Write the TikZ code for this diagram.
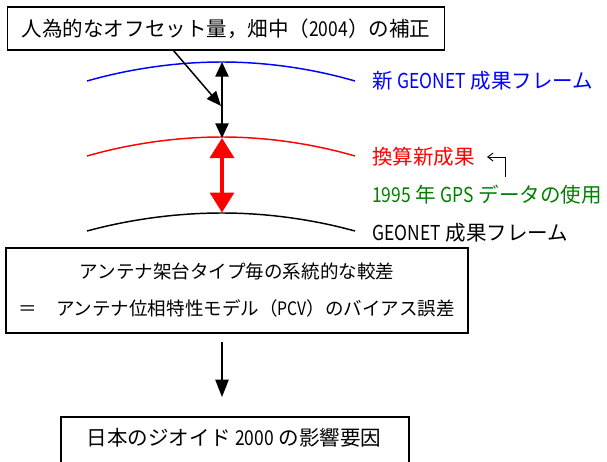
\documentclass[tikz,border=0pt]{standalone}
\usepackage{fontspec}
\setmainfont{Noto Sans CJK JP}
\newfontfamily\narrow[FakeStretch=0.85]{Noto Sans CJK JP}
\usetikzlibrary{arrows.meta}
\definecolor{dgreen}{RGB}{0,128,0}
\tikzset{
  boxst/.style={draw, line width=1.4pt, inner sep=0pt},
  bigfont/.style={font=\fontsize{15.4pt}{18pt}\selectfont},
  lbl/.style={anchor=west, inner sep=0pt, bigfont},
  curve/.style={line width=1.1pt},
  blkarrow/.style={line width=1.1pt, {Triangle[length=11pt,width=10pt]}-{Triangle[length=11pt,width=10pt]}},
  onearrow/.style={line width=1.1pt, -{Triangle[length=11pt,width=9pt]}},
  redarrow/.style={red, line width=2.6pt, {Triangle[length=15pt,width=18pt]}-{Triangle[length=15pt,width=18pt]}},
  thinarrow/.style={line width=0.7pt, -{Straight Barb[length=4pt,width=6pt]}}
}
\begin{document}
\begin{tikzpicture}[x=0.75pt,y=-0.75pt]
\clip (0,0) rectangle (607,461);
\useasboundingbox (0,0) rectangle (607,461);
% top box
\node[boxst, minimum width=437*0.75pt, minimum height=43*0.75pt, bigfont] (top) at (226,28.5) {人為的なオフセット量，畑中（{\narrow 2004}）の補正};
% curves
\draw[curve, blue] (87,81) parabola bend (222,62) (355,81);
\draw[curve, red] (87,156) parabola bend (222,137) (355,156);
\draw[curve, black] (87,231) parabola bend (222,213) (355,231);
\coordinate (bluepk) at (222,62);
\coordinate (redpk) at (222,138);
\coordinate (blkpk) at (222,212.5);
\draw[blkarrow] (bluepk) -- (redpk);
\draw[redarrow] (redpk) -- (blkpk);
\coordinate (dstart) at (173,50);
\coordinate (dend) at (221,106);
\draw[onearrow] (dstart) -- (dend);
% labels
\node[lbl, blue] (lblue) at (372,81) {新 {\narrow GEONET} 成果フレーム};
\node[lbl, red] (lred) at (372,157) {換算新成果};
\node[lbl, dgreen] (lgreen) at (372,195) {{\narrow 1995} 年 {\narrow GPS} データの使用};
\node[lbl] (lblack) at (372,233) {{\narrow GEONET} 成果フレーム};
\coordinate (b1) at (505,177);
\coordinate (b2) at (487,157);
\draw[thinarrow] (b1) |- (b2);
% middle box
\node[boxst, minimum width=462*0.75pt, minimum height=85*0.75pt, align=center, font=\fontsize{13.9pt}{27.75pt}\selectfont] (mid) at (237,290.5) {アンテナ架台タイプ毎の系統的な較差\\＝\hspace{1em}アンテナ位相特性モデル（{\narrow PCV}）のバイアス誤差};
% bottom
\node[inner sep=0pt, bigfont] (goal) at (234,438) {日本のジオイド {\narrow 2000} の影響要因};
\draw[line width=1.4pt] (61,475) |- (409,417) -- (409,475);
\coordinate (aend) at (222,397);
\draw[line width=1.1pt, -{Triangle[length=13pt,width=10pt]}] (222,342) -- (aend);
\end{tikzpicture}
\end{document}
